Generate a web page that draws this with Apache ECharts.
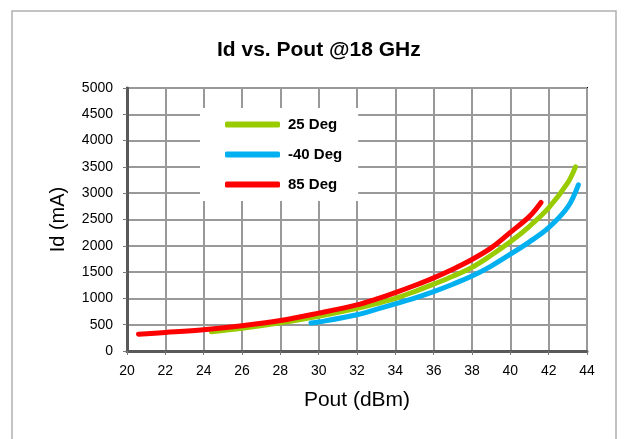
<!DOCTYPE html>
<html>
<head>
<meta charset="utf-8">
<script src="https://cdn.jsdelivr.net/npm/echarts@6/dist/echarts.min.js"></script>
<style>html,body{margin:0;padding:0;background:#fff}#c{width:627px;height:439px}</style>
</head>
<body>
<div id="c"></div>
<script>
const titleText = 'Id vs. Pout @18 GHz';
const xName = 'Pout (dBm)';
const yName = 'Id (mA)';
const seriesNames = ['25 Deg', '-40 Deg', '85 Deg'];

const green25 = [[24.4,365],[26,430],[28,535],[30,660],[32,810],[33,900],[34,1000],[35,1130],[36,1271],[37,1420],[38,1590],[39,1820],[40,2075],[41,2370],[42,2720],[43,3200],[43.4,3500]];
const blueM40 = [[29.6,532],[30,551],[32,690],[33,790],[34,895],[35,1005],[36,1130],[37,1270],[38,1425],[39,1615],[40,1840],[41,2075],[42,2345],[43,2740],[43.55,3160]];
const red85 = [[20.6,320],[22,352],[24,404],[26,480],[28,580],[30,720],[32,876],[33,985],[34,1110],[35,1245],[36,1390],[37,1555],[38,1740],[39,1960],[40,2255],[41,2560],[41.6,2825]];

const chart = echarts.init(document.getElementById('c'), null, {renderer:'canvas'});
const font = 'Liberation Sans, Arial, sans-serif';
function mk(name, data, color){
  return {name, type:'line', data, smooth:0.35, showSymbol:false, symbol:'none',
    lineStyle:{color, width:5, cap:'round', join:'round'}, itemStyle:{color}, z:3};
}
chart.setOption({
  animation:false,
  backgroundColor:'#fff',
  title:{text:titleText, left:212, top:35,
    textStyle:{fontFamily:font, fontSize:21, fontWeight:'bold', color:'#000'}},
  graphic:[{type:'rect', shape:{x:12, y:11, width:604, height:440},
    style:{fill:'none', stroke:'#b0b0b0', lineWidth:1.5}, z:-1}],
  legend:{
    data:seriesNames, orient:'vertical', left:200, top:108, itemGap:15,
    itemWidth:55, itemHeight:6, icon:'roundRect',
    backgroundColor:'#fff', padding:[9,16,9,25],
    textStyle:{fontFamily:font, fontSize:15, fontWeight:'bold', color:'#000', padding:[0,0,0,3]}
  },
  grid:{left:127, right:40, top:88, bottom:88, show:true, borderColor:'#000', borderWidth:2},
  xAxis:{type:'value', min:20, max:44, interval:2,
    name:xName, nameLocation:'middle', nameGap:39,
    nameTextStyle:{fontFamily:font, fontSize:21, color:'#000'},
    axisLine:{show:true, lineStyle:{color:'#595959', width:3}},
    axisTick:{show:true, length:4, lineStyle:{color:'#777'}},
    axisLabel:{fontFamily:font, fontSize:14, color:'#000', margin:13},
    splitLine:{show:true, lineStyle:{color:'#999', width:2}}},
  yAxis:{type:'value', min:0, max:5000, interval:500,
    name:yName, nameLocation:'middle', nameGap:59,
    nameTextStyle:{fontFamily:font, fontSize:20, color:'#000'},
    axisLine:{show:true, lineStyle:{color:'#595959', width:3}},
    axisTick:{show:true, length:4, lineStyle:{color:'#777'}},
    axisLabel:{fontFamily:font, fontSize:14, color:'#000', margin:14, formatter:v=>String(v)},
    splitLine:{show:true, lineStyle:{color:'#999', width:2}}},
  series:[mk(seriesNames[0], green25, '#99CC00'), mk(seriesNames[1], blueM40, '#00B0F0'), mk(seriesNames[2], red85, '#FF0000')]
});
</script>
</body>
</html>
